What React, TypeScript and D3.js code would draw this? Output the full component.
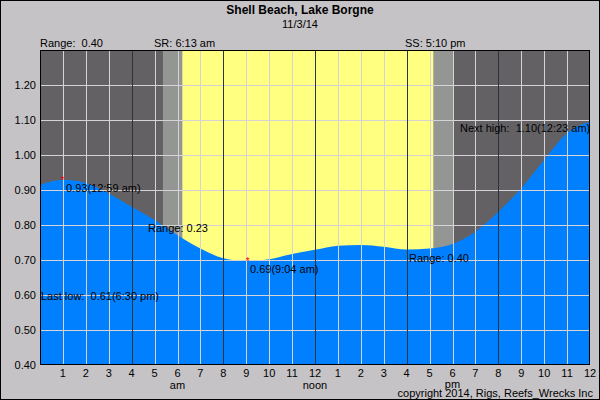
import React from "react";
import * as d3 from "d3";

const hours = [0, 1, 2, 3, 4, 5, 6, 7, 8, 9, 10, 11, 12, 13, 14, 15, 16, 17, 18, 19, 20, 21, 22, 23, 24];
const levels = [0.914, 0.929, 0.92, 0.89, 0.852, 0.814, 0.771, 0.733, 0.705, 0.697, 0.702, 0.717, 0.729, 0.741, 0.743, 0.738, 0.73, 0.733, 0.746, 0.781, 0.838, 0.905, 0.986, 1.062, 1.095];

const yTicks = [0.4, 0.5, 0.6, 0.7, 0.8, 0.9, 1.0, 1.1, 1.2];
const xTickHours = [1, 2, 3, 4, 5, 6, 7, 8, 9, 10, 11, 12, 13, 14, 15, 16, 17, 18, 19, 20, 21, 22, 23, 24];
const xTickLabels = ["1", "2", "3", "4", "5", "6", "7", "8", "9", "10", "11", "12", "1", "2", "3", "4", "5", "6", "7", "8", "9", "10", "11", "12"];
const majorHours = [4, 8, 12, 16, 20];

const bandStarts = [0, 5.37, 6.217, 17.167, 18.02];
const bandEnds = [5.37, 6.217, 17.167, 18.02, 24];
const bandKinds = ["night", "twilight", "day", "twilight", "night"];

const extremeHours = [0.983, 9.067];
const extremeLevels = [0.929, 0.697];

const W = 600, H = 400;
const L = 40, R = 590, T = 50, B = 365;
const font = "'Liberation Sans', Arial, sans-serif";
const sp = "\u00a0";

export default function App() {
  const x = d3.scaleLinear().domain([0, 24]).range([L, R]);
  const y = d3.scaleLinear().domain([0.4, 1.3]).range([B, T]);
  const pts = hours.map((h, i) => [h, levels[i]] as [number, number]);
  const area = d3
    .area<[number, number]>()
    .x((d) => x(d[0]))
    .y0(B)
    .y1((d) => y(d[1]))
    .curve(d3.curveMonotoneX)(pts) as string;
  const bandColor: Record<string, string> = { night: "#636163", twilight: "#949694", day: "#ffff80" };

  return (
    <svg width={W} height={H} style={{ position: "absolute", left: 0, top: 0 }} fontFamily={font}>
      <rect x={0.5} y={0.5} width={W - 1} height={H - 1} fill="#c6c3c6" stroke="#000" />
      {bandStarts.map((s, i) => (
        <rect key={i} x={x(s)} y={T} width={x(bandEnds[i]) - x(s)} height={B - T} fill={bandColor[bandKinds[i]]} />
      ))}
      <path d={area} fill="#0080ff" />
      {yTicks.slice(1).map((v) => (
        <line key={v} x1={L} x2={R} y1={Math.round(y(v)) + 0.5} y2={Math.round(y(v)) + 0.5} stroke="#d6d3d6" strokeWidth={1} />
      ))}
      {xTickHours.slice(0, 23).map((h) => (
        <line key={h} x1={Math.round(x(h)) + 0.5} x2={Math.round(x(h)) + 0.5} y1={T} y2={B}
          stroke={majorHours.includes(h) ? "#29343c" : "#d6d3d6"} strokeWidth={1} />
      ))}
      <rect x={L + 0.5} y={T + 0.5} width={R - L - 1} height={B - T - 1} fill="none" stroke="#000" />
      {extremeHours.map((h, i) => (
        <text key={i} x={x(h)} y={y(extremeLevels[i]) + 4} fill="#ff0000" fontSize={10} textAnchor="middle">*</text>
      ))}
      <text x={300} y={14} textAnchor="middle" fontSize={12} fontWeight="bold">Shell Beach, Lake Borgne</text>
      <text x={300} y={28} textAnchor="middle" fontSize={11}>11/3/14</text>
      <text x={40} y={47} fontSize={11}>{"Range:" + sp + sp + "0.40"}</text>
      <text x={154} y={47} fontSize={11}>SR: 6:13 am</text>
      <text x={405} y={47} fontSize={11}>SS: 5:10 pm</text>
      {yTicks.map((v) => (
        <text key={v} x={36} y={y(v) + 4} textAnchor="end" fontSize={11}>{v.toFixed(2)}</text>
      ))}
      {xTickHours.map((h, i) => (
        <text key={h} x={x(h)} y={377} textAnchor="middle" fontSize={11}>{xTickLabels[i]}</text>
      ))}
      <text x={x(6)} y={389} textAnchor="middle" fontSize={11}>am</text>
      <text x={x(12)} y={389} textAnchor="middle" fontSize={11}>noon</text>
      <text x={x(18)} y={388} textAnchor="middle" fontSize={11}>pm</text>
      <text x={593} y={397} textAnchor="end" fontSize={11}>copyright 2014, Rigs, Reefs_Wrecks Inc</text>
      <text x={66} y={192} fontSize={11}>0.93(12:59 am)</text>
      <text x={148} y={232} fontSize={11}>Range: 0.23</text>
      <text x={250} y={273} fontSize={11}>0.69(9:04 am)</text>
      <text x={409} y={262} fontSize={11}>Range: 0.40</text>
      <text x={460} y={132} fontSize={11}>{"Next high:" + sp + sp + "1.10(12:23 am)"}</text>
      <text x={41} y={300} fontSize={11}>{"Last low:" + sp + sp + "0.61(6:30 pm)"}</text>
    </svg>
  );
}
